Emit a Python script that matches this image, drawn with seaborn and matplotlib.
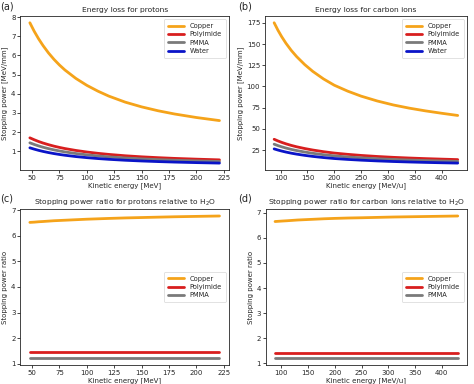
import numpy as np
import pandas as pd
import matplotlib
matplotlib.use("Agg")
import matplotlib.pyplot as plt
import seaborn as sns

sns.set_style("ticks")
plt.rcParams['font.family'] = ['DejaVu Sans']

colors = {'Copper': '#f5a31a', 'Polyimide': '#d81e1e', 'PMMA': '#7a7a7a', 'Water': '#0a14c8'}

# protons, stopping power [MeV/mm]
e_p = [48, 52, 56, 60, 65, 70, 75, 80, 90, 100, 110, 120, 135, 150, 165, 180, 200, 221]
cu_p = [7.700, 7.252, 6.860, 6.512, 6.127, 5.792, 5.497, 5.237, 4.797, 4.437, 4.137, 3.877, 3.562, 3.315, 3.112, 2.944, 2.760, 2.600]
pi_p = [1.701, 1.600, 1.509, 1.430, 1.344, 1.267, 1.201, 1.142, 1.043, 0.962, 0.894, 0.837, 0.766, 0.711, 0.667, 0.629, 0.589, 0.553]
pm_p = [1.441, 1.355, 1.279, 1.211, 1.138, 1.074, 1.017, 0.967, 0.883, 0.815, 0.758, 0.709, 0.649, 0.603, 0.565, 0.533, 0.499, 0.468]
wa_p = [1.181, 1.111, 1.048, 0.993, 0.933, 0.880, 0.834, 0.793, 0.724, 0.668, 0.621, 0.581, 0.532, 0.494, 0.463, 0.437, 0.409, 0.384]

# carbon ions, stopping power [MeV/mm]
e_c = [88, 95, 102, 110, 120, 130, 145, 160, 180, 200, 225, 250, 280, 310, 340, 370, 400, 430]
cu_c = [175.2, 166.5, 158.8, 151.0, 142.5, 135.2, 125.8, 117.8, 108.9, 101.5, 94.5, 88.6, 82.9, 78.2, 74.4, 71.2, 68.4, 65.8]
pi_c = [37.68, 35.75, 34.05, 32.32, 30.43, 28.81, 26.76, 25.00, 23.04, 21.42, 19.91, 18.63, 17.39, 16.37, 15.56, 14.86, 14.26, 13.70]
pm_c = [31.88, 30.25, 28.81, 27.35, 25.75, 24.38, 22.64, 21.15, 19.49, 18.13, 16.84, 15.77, 14.71, 13.85, 13.16, 12.57, 12.06, 11.59]
wa_c = [26.35, 25.00, 23.81, 22.60, 21.28, 20.15, 18.71, 17.48, 16.11, 14.98, 13.92, 13.03, 12.16, 11.45, 10.88, 10.39, 9.97, 9.58]

# stopping power ratios relative to water
cu_p_ratio = [6.52, 6.53, 6.545, 6.555, 6.57, 6.585, 6.595, 6.605, 6.625, 6.645, 6.66, 6.675, 6.695, 6.71, 6.725, 6.74, 6.755, 6.77]
pi_p_ratio = [1.44] * len(e_p)
pm_p_ratio = [1.22] * len(e_p)
cu_c_ratio = [6.65, 6.66, 6.67, 6.68, 6.695, 6.71, 6.725, 6.74, 6.76, 6.775, 6.79, 6.80, 6.815, 6.83, 6.84, 6.85, 6.86, 6.87]
pi_c_ratio = [1.43] * len(e_c)
pm_c_ratio = [1.21] * len(e_c)


def long_df(energy, series):
    rows = []
    for name, vals in series.items():
        for e, v in zip(energy, vals):
            rows.append((e, v, name))
    return pd.DataFrame(rows, columns=['energy', 'value', 'material'])


panels = [
    ('(a)', [0.043, 0.557, 0.440, 0.402], (0.0, 0.995),
     long_df(e_p, {'Copper': cu_p, 'Polyimide': pi_p, 'PMMA': pm_p, 'Water': wa_p}),
     'Energy loss for protons', 'Kinetic energy [MeV]', 'Stopping power [MeV/mm]', 'upper right'),
    ('(b)', [0.559, 0.557, 0.426, 0.402], (0.503, 0.995),
     long_df(e_c, {'Copper': cu_c, 'Polyimide': pi_c, 'PMMA': pm_c, 'Water': wa_c}),
     'Energy loss for carbon ions', 'Kinetic energy [MeV/u]', 'Stopping power [MeV/mm]', 'upper right'),
    ('(c)', [0.043, 0.049, 0.440, 0.407], (0.0, 0.495),
     long_df(e_p, {'Copper': cu_p_ratio, 'Polyimide': pi_p_ratio, 'PMMA': pm_p_ratio}),
     'Stopping power ratio for protons relative to H$_2$O', 'Kinetic energy [MeV]', 'Stopping power ratio', 'center right'),
    ('(d)', [0.561, 0.049, 0.424, 0.407], (0.503, 0.495),
     long_df(e_c, {'Copper': cu_c_ratio, 'Polyimide': pi_c_ratio, 'PMMA': pm_c_ratio}),
     'Stopping power ratio for carbon ions relative to H$_2$O', 'Kinetic energy [MeV/u]', 'Stopping power ratio', 'center right'),
]

fig = plt.figure(figsize=(4.74, 3.84), dpi=100)
for label, rect, lpos, df, title, xl, yl, loc in panels:
    ax = fig.add_axes(rect)
    sns.lineplot(data=df, x='energy', y='value', hue='material', palette=colors,
                 linewidth=2.0, ax=ax)
    ax.set_title(title, fontsize=5.4, pad=3)
    ax.set_xlabel(xl, fontsize=5.0, labelpad=1)
    ax.set_ylabel(yl, fontsize=5.0, labelpad=2)
    ax.tick_params(labelsize=5.0, length=2, width=0.6, pad=1.5)
    for s in ax.spines.values():
        s.set_linewidth(0.6)
    leg = ax.legend(loc=loc, fontsize=4.8, frameon=True, handlelength=2.4,
                    borderpad=0.6, labelspacing=0.35, title=None)
    leg.get_frame().set_linewidth(0.5)
    fig.text(lpos[0], lpos[1], label, fontsize=7, va='top', ha='left')

fig.savefig('out.png', dpi=100)
